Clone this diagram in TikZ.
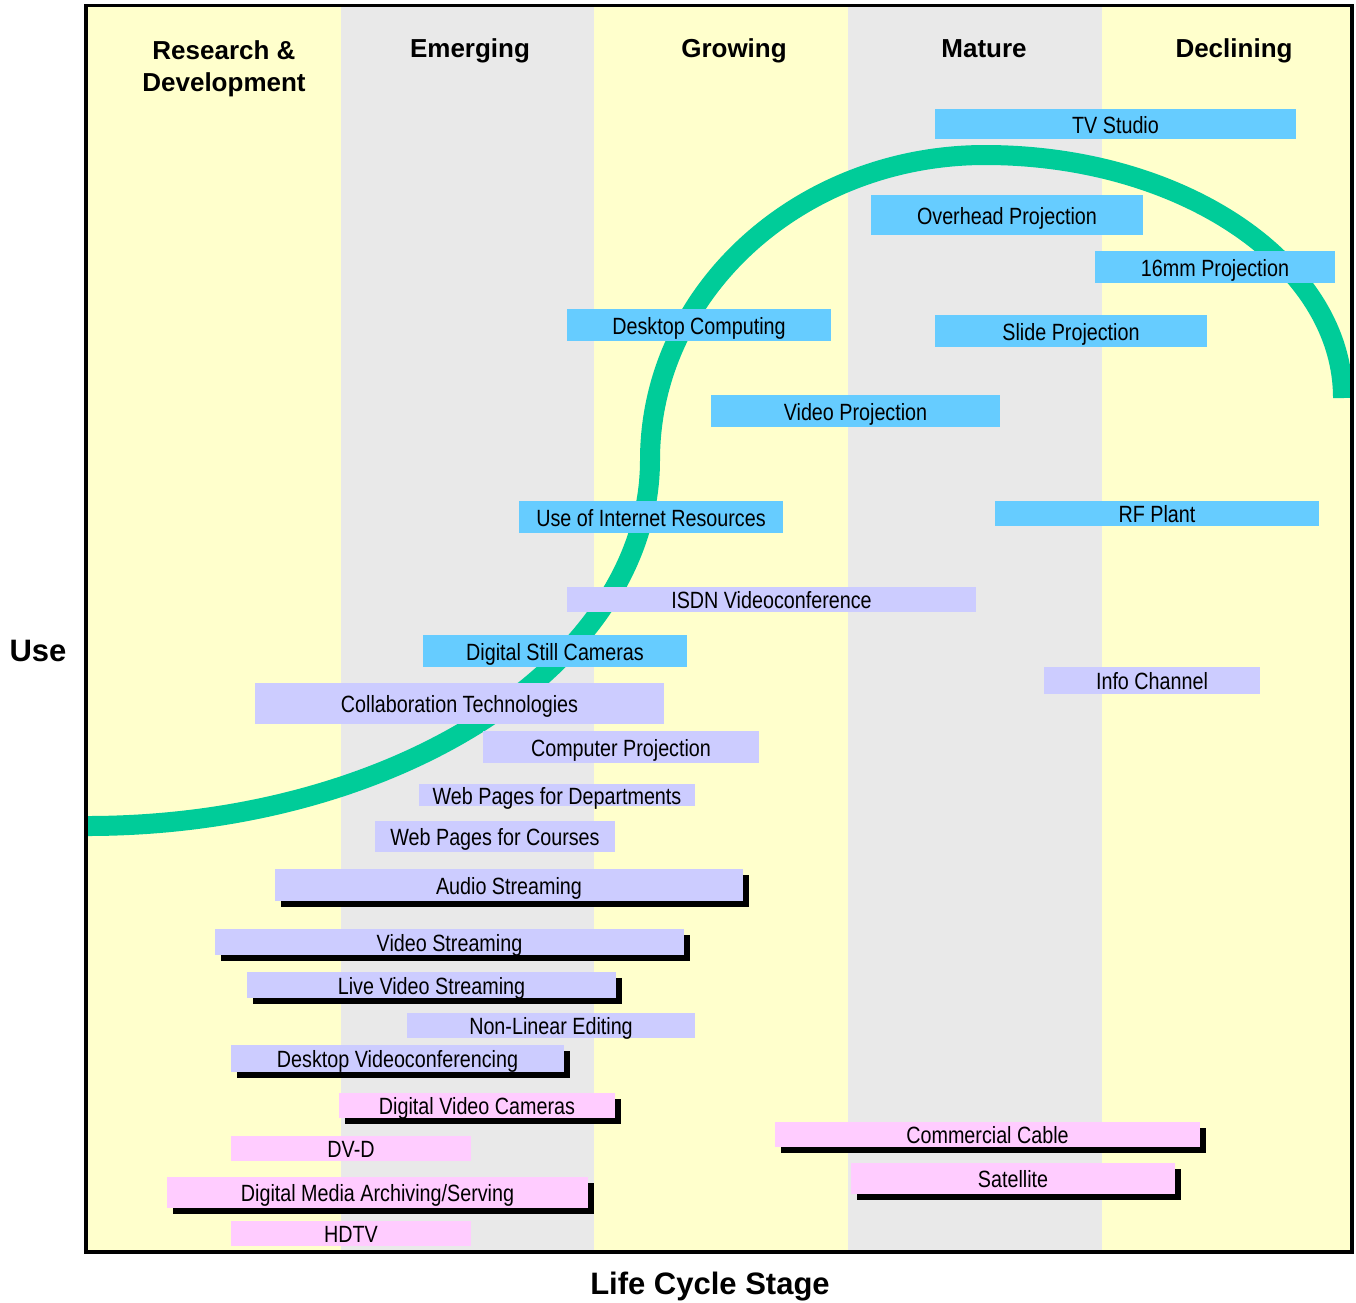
\documentclass[tikz,border=0pt]{standalone}
\usepackage{fontspec}
\setmainfont{Liberation Sans}
\newfontfamily\narrowfont{Liberation Sans}[FakeStretch=0.84]
\usetikzlibrary{shadows}

\definecolor{bandyellow}{HTML}{FFFFCC}
\definecolor{bandgray}{HTML}{E9E9E9}
\definecolor{curvegreen}{HTML}{00CC99}
\definecolor{barblue}{HTML}{66CCFF}
\definecolor{barlav}{HTML}{CCCCFF}
\definecolor{barpink}{HTML}{FFCCFF}

% A technology bar: name, style, left, top, right, bottom, label
\newcommand\techbar[7]{%
  \node[#2, minimum width={#5-#3}, minimum height={#6-#4}]
    (#1) at ({(#3+#5)/2},{(#4+#6)/2}) {#7};}

\begin{document}
\begin{tikzpicture}[x=1pt, y=-1pt,
  bar/.style={inner sep=0pt, outer sep=0pt, text=black,
    font=\narrowfont\fontsize{23.5}{26}\selectfont,
    text height=18.6pt, text depth=0pt},
  bluebar/.style={bar, fill=barblue},
  lavbar/.style={bar, fill=barlav},
  pinkbar/.style={bar, fill=barpink},
  shadowed/.style={general shadow={fill=black, shadow xshift=5.5pt, shadow yshift=-5.5pt}},
  stagehead/.style={font=\bfseries\fontsize{26}{32}\selectfont, align=center, anchor=base},
  axislabel/.style={font=\bfseries\fontsize{31}{36}\selectfont, anchor=base},
  lifecurve/.style={draw=curvegreen, line width=20pt, line cap=butt}]

\useasboundingbox (0,0) rectangle (1356,1302);
\fill[white] (0,0) rectangle (1356,1302);

% life-cycle stage bands
\fill[bandyellow] (86,6) rectangle (341,1252);
\fill[bandgray]   (341,6) rectangle (594,1252);
\fill[bandyellow] (594,6) rectangle (848,1252);
\fill[bandgray]   (848,6) rectangle (1102,1252);
\fill[bandyellow] (1102,6) rectangle (1352,1252);

% adoption curve
\coordinate (cstart) at (87,826);
\coordinate (cmid) at (650,460);
\coordinate (ctop) at (985,155);
\coordinate (cend) at (1343,398);
\draw[lifecurve] (cstart) .. controls (398,826) and (650,662) .. (cmid)
  .. controls (650,291.5) and (800,155) .. (ctop)
  .. controls (1183,155) and (1343,264) .. (cend);

% technologies
\techbar{tv}{bluebar}{935}{109}{1296}{139}{TV Studio}
\techbar{overhead}{bluebar}{871}{195}{1143}{235}{Overhead Projection}
\techbar{sixteen}{bluebar}{1095}{251}{1335}{283}{16mm Projection}
\techbar{desktopcomp}{bluebar}{567}{309}{831}{341}{Desktop Computing}
\techbar{slide}{bluebar}{935}{315}{1207}{347}{Slide Projection}
\techbar{videoproj}{bluebar}{711}{395}{1000}{427}{Video Projection}
\techbar{internet}{bluebar}{519}{501}{783}{533}{Use of Internet Resources}
\techbar{rfplant}{bluebar}{995}{501}{1319}{526}{RF Plant}
\techbar{isdn}{lavbar}{567}{587}{976}{612}{ISDN Videoconference}
\techbar{stillcam}{bluebar}{423}{635}{687}{667}{Digital Still Cameras}
\techbar{infochan}{lavbar}{1044}{667}{1260}{694}{Info Channel}
\techbar{collab}{lavbar}{255}{683}{664}{724}{Collaboration Technologies}
\techbar{compproj}{lavbar}{483}{731}{759}{763}{Computer Projection}
\techbar{webdept}{lavbar}{419}{784}{695}{806}{Web Pages for Departments}
\techbar{webcourse}{lavbar}{375}{821}{615}{852}{Web Pages for Courses}
\techbar{audio}{lavbar,shadowed}{275}{869}{743}{901}{Audio Streaming}
\techbar{vidstream}{lavbar,shadowed}{215}{929}{684}{955}{Video Streaming}
\techbar{livevid}{lavbar,shadowed}{247}{972}{616}{998}{Live Video Streaming}
\techbar{nle}{lavbar}{407}{1013}{695}{1038}{Non-Linear Editing}
\techbar{desktopvc}{lavbar,shadowed}{231}{1045}{564}{1072}{Desktop Videoconferencing}
\techbar{dvcam}{pinkbar,shadowed}{339}{1093}{615}{1118}{Digital Video Cameras}
\techbar{dvd}{pinkbar}{231}{1136}{471}{1161}{DV-D}
\techbar{archive}{pinkbar,shadowed}{167}{1177}{588}{1208}{Digital Media Archiving/Serving}
\techbar{hdtv}{pinkbar}{231}{1221}{471}{1246}{HDTV}
\techbar{cable}{pinkbar,shadowed}{775}{1122}{1200}{1147}{Commercial Cable}
\techbar{satellite}{pinkbar,shadowed}{851}{1163}{1175}{1194}{Satellite}

% frame
\draw[black, line width=3.5pt] (86,5.7) rectangle (1352,1252);

% stage headings
\node[stagehead] (hrd) at (224,91) {Research \&\\Development};
\node[stagehead] (hem) at (470,57.3) {Emerging};
\node[stagehead] (hgr) at (734,57.3) {Growing};
\node[stagehead] (hma) at (984,57.3) {Mature};
\node[stagehead] (hde) at (1234,57.3) {Declining};

% axis labels
\node[axislabel] (yaxis) at (38,661) {Use};
\node[axislabel] (xaxis) at (710,1294) {Life Cycle Stage};
\end{tikzpicture}
\end{document}
